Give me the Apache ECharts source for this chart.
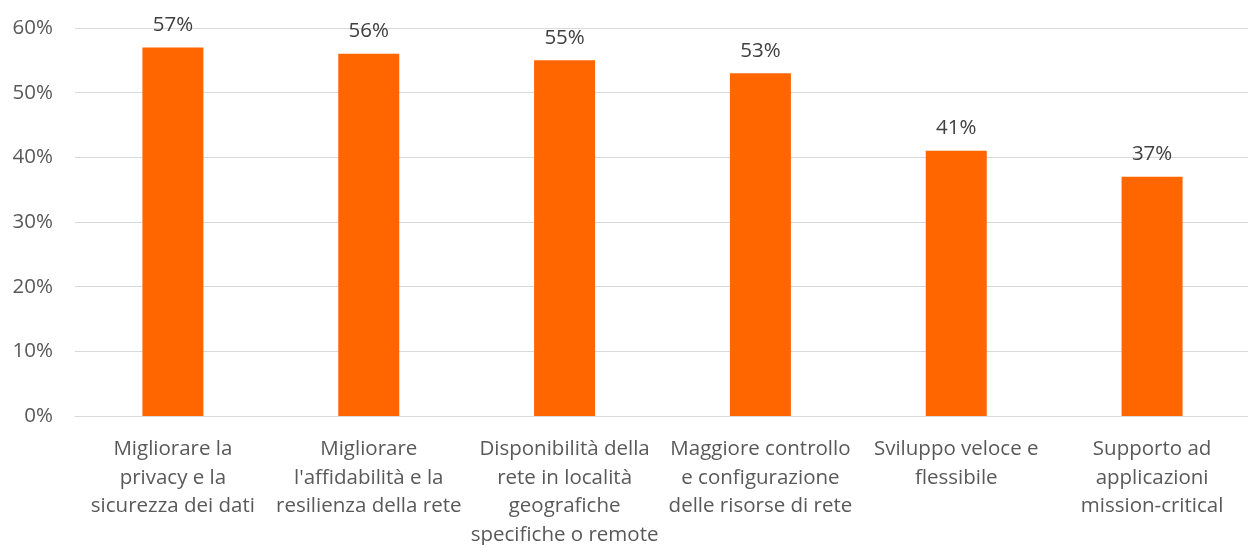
<!DOCTYPE html>
<html><head><meta charset="utf-8">
<script src="https://cdn.jsdelivr.net/npm/echarts@6/dist/echarts.min.js"></script>
<style>html,body{margin:0;padding:0;background:#fff}#c{width:1248px;height:545px}</style>
</head><body><div id="c"></div>
<script>
const categories = [
  "Migliorare la\nprivacy e la\nsicurezza dei dati",
  "Migliorare\nl'affidabilità e la\nresilienza della rete",
  "Disponibilità della\nrete in località\ngeografiche\nspecifiche o remote",
  "Maggiore controllo\ne configurazione\ndelle risorse di rete",
  "Sviluppo veloce e\nflessibile",
  "Supporto ad\napplicazioni\nmission-critical"
];
const values = [57, 56, 55, 53, 41, 37];
const yTicks = [0, 10, 20, 30, 40, 50, 60];

const font = "'Open Sans', 'Liberation Sans', sans-serif";
const chart = echarts.init(document.getElementById('c'));
chart.setOption({
  animation: false,
  grid: {left: 75, top: 28, width: 1175, height: 388, containLabel: false, outerBoundsMode: 'none'},
  xAxis: {
    type: 'category', data: categories,
    axisLine: {show: true, lineStyle: {color: '#D9D9D9', width: 1}},
    axisTick: {show: false},
    axisLabel: {interval: 0, color: '#595959', fontSize: 20.5, fontFamily: font, lineHeight: 28.5, margin: 19}
  },
  yAxis: {
    type: 'value', min: yTicks[0], max: yTicks[yTicks.length-1], interval: 10,
    axisLine: {show: false}, axisTick: {show: false},
    splitLine: {lineStyle: {color: '#D9D9D9', width: 1}},
    axisLabel: {formatter: v => v + '%', color: '#595959', fontSize: 20.5, fontFamily: font, margin: 22}
  },
  series: [{
    type: 'bar', data: values, barWidth: 61,
    itemStyle: {color: '#FF6600'},
    label: {show: true, position: 'top', distance: 12, formatter: p => p.value + '%', color: '#404040', fontSize: 20.5, fontFamily: font}
  }]
});
</script></body></html>
